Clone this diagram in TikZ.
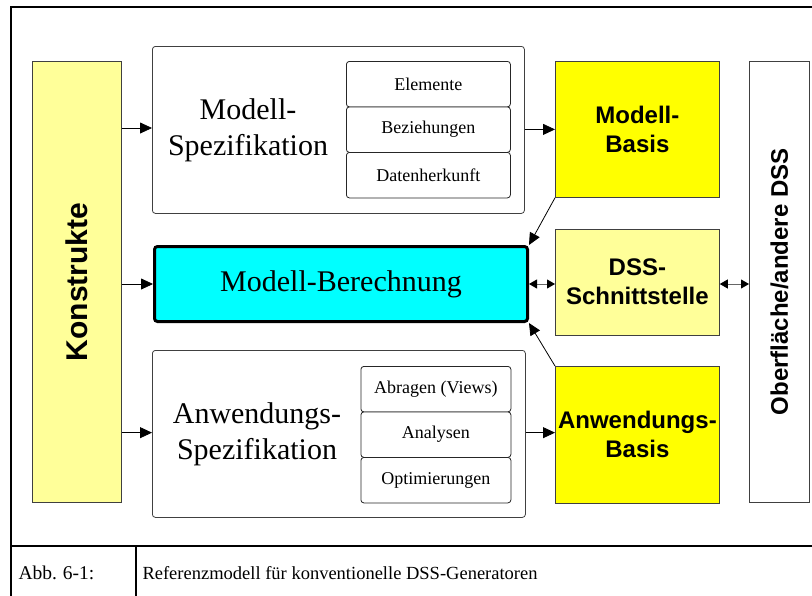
\documentclass[tikz,border=0pt]{standalone}
\usepackage{fontspec}
\setmainfont{Liberation Serif}
\newfontfamily\arialfont{Liberation Sans}
\usetikzlibrary{arrows.meta}
\definecolor{lightyel}{HTML}{FFFF99}
\definecolor{fullyel}{HTML}{FFFF00}
\definecolor{cyanfill}{HTML}{00FFFF}
\definecolor{edgegray}{HTML}{404040}
\tikzset{
  plainbox/.style={draw=edgegray, line width=0.8pt, inner sep=0pt, anchor=north west},
  roundbox/.style={draw=edgegray, line width=0.8pt, rounded corners=3pt, inner sep=0pt, anchor=north west, fill=white},
  subbox/.style={draw=black!85, line width=0.8pt, rounded corners=3pt, inner sep=0pt, anchor=north west, fill=white,
    font=\fontsize{18}{21}\selectfont},
  boldlabel/.style={font=\arialfont\bfseries\fontsize{24}{28.5}\selectfont, align=center},
  seriflabel/.style={font=\fontsize{30}{36}\selectfont, align=center},
  flow/.style={line width=0.8pt, -{Triangle[length=12pt,width=11pt]}},
  both/.style={line width=0.8pt, draw=black!60, {Triangle[length=8pt,width=9pt,color=black]}-{Triangle[length=8pt,width=9pt,color=black]}},
  frameline/.style={line width=1.6pt, black},
  captiontext/.style={font=\fontsize{18.5}{21}\selectfont, anchor=west},
}
\begin{document}
\begin{tikzpicture}[x=1pt,y=-1pt]
\clip (0,0) rectangle (812,595);
\fill[white] (0,0) rectangle (812,595);

% outer frame and caption row
\draw[frameline] (11,7) rectangle (815,600);
\draw[frameline] (11,546) -- (815,546);
\draw[frameline] (136,546) -- (136,600);
\node[captiontext, font=\fontsize{19.5}{22}\selectfont] (abb) at (15,573) {Abb.\hspace{6pt}6-1:};
\node[captiontext] (caption) at (139,573) {Referenzmodell für konventionelle DSS-Generatoren};

% left column: constructs
\node[plainbox, fill=lightyel, minimum width=89pt, minimum height=441pt] (konst) at (32,61) {};
\node[boldlabel, font=\arialfont\bfseries\fontsize{30}{36}\selectfont, rotate=90] (konsttxt) at (konst.center) {Konstrukte};

% model specification
\node[roundbox, minimum width=372pt, minimum height=167pt] (mspec) at (152,46) {};
\node[seriflabel] (mspectxt) at (248,130) {Modell-\\Spezifikation};
\node[subbox, minimum width=164pt, minimum height=45.5pt] (elem) at (346,61) {Elemente};
\node[subbox, minimum width=164pt, minimum height=45.5pt] (bez) at (346,106.5) {Beziehungen};
\node[subbox, minimum width=164pt, minimum height=45.5pt] (daten) at (346,152) {Datenherkunft};

% model computation
\node[draw=black, line width=3pt, rounded corners=3pt, fill=cyanfill, inner sep=0pt, anchor=north west,
      minimum width=373pt, minimum height=75pt] (mber) at (153,245) {};
\node[seriflabel] (mbertxt) at (mber.center) {Modell-Berechnung};

% application specification
\node[roundbox, minimum width=373pt, minimum height=167pt] (aspec) at (152,350) {};
\node[seriflabel] (aspectxt) at (257,434) {Anwendungs-\\Spezifikation};
\node[subbox, minimum width=150pt, minimum height=45.5pt] (abfr) at (360.5,366) {Abragen (Views)};
\node[subbox, minimum width=150pt, minimum height=45.5pt] (anal) at (360.5,411.5) {Analysen};
\node[subbox, minimum width=150pt, minimum height=45.5pt] (opt) at (360.5,457) {Optimierungen};

% bases and interface
\node[plainbox, fill=fullyel, minimum width=164pt, minimum height=136pt, boldlabel] (mbasis) at (555,61) {Modell-\\Basis};
\node[plainbox, fill=lightyel, minimum width=164pt, minimum height=106pt, boldlabel] (dss) at (555,228.5) {DSS-\\Schnittstelle};
\node[plainbox, fill=fullyel, minimum width=164pt, minimum height=136.5pt, boldlabel] (abasis) at (555,366) {Anwendungs-\\Basis};

% user interface / other DSS
\node[plainbox, fill=white, minimum width=60pt, minimum height=441pt] (ober) at (749,61) {};
\node[boldlabel, rotate=90] (obertxt) at (ober.center) {Oberfläche/andere DSS};

% connectors
\draw[flow] (konst.east |- mspectxt) ++(0,-2) coordinate (k1) -- (k1 -| mspec.west);
\draw[flow] (konst.east |- mber.center) -- (mber.west);
\draw[flow] (konst.east |- abasis.center) ++(0,-2) coordinate (k3) -- (k3 -| aspec.west);
\draw[flow] (mspec.east |- mbasis.center) -- (mbasis.west);
\draw[flow] (aspec.east |- abasis.center) ++(0,-2) coordinate (a1) -- (a1 -| abasis.west);
\draw[flow] (mbasis.south west) -- (mber.north east);
\draw[flow] (abasis.north west) -- (mber.south east);
\draw[both] (mber.east) -- (mber.east -| dss.west);
\draw[both] (dss.east |- mber.east) -- (mber.east -| ober.west);
\end{tikzpicture}
\end{document}
